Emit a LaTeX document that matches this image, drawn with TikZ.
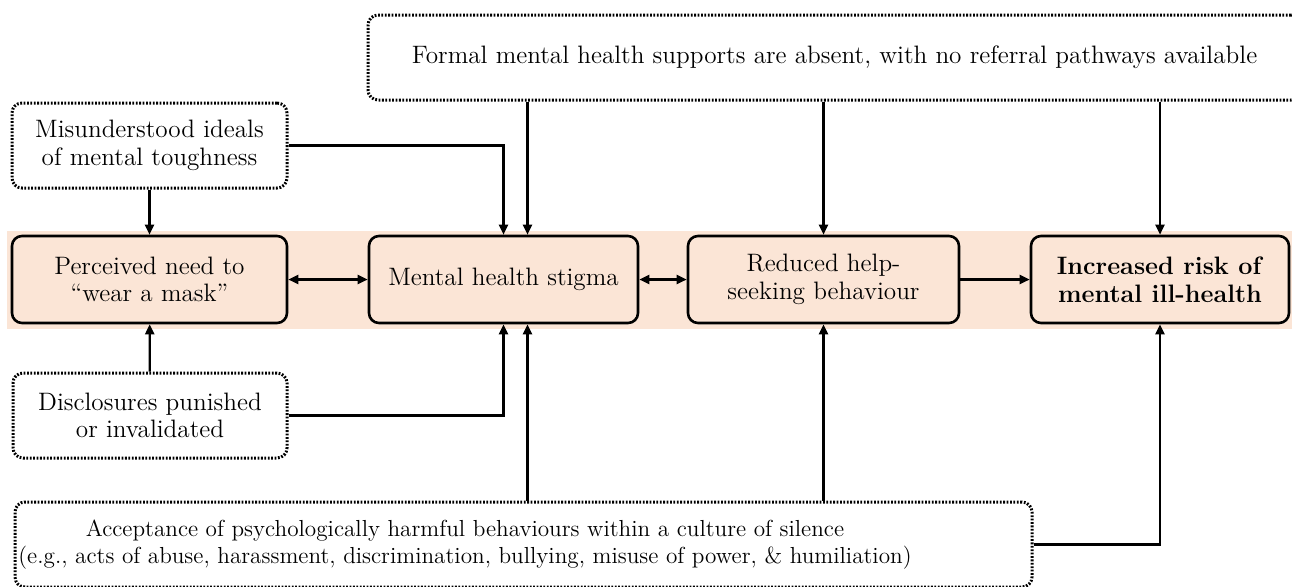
\documentclass[tikz,border=0pt]{standalone}
\usetikzlibrary{arrows.meta}
\definecolor{Peach}{HTML}{FBE5D6}

\begin{document}
\begin{tikzpicture}[
  x=0.5pt,y=-0.5pt,
  font=\fontsize{12.6}{13.8}\selectfont,
  factor/.style = {draw,line width=1.3pt,rounded corners=5pt,fill=Peach,
    align=center,inner sep=0pt,minimum height=43.5pt},
  context/.style = {draw,line width=1.5pt,dash pattern=on 0.9pt off 0.8pt,
    rounded corners=5pt,align=center,inner sep=0pt,minimum height=42.5pt},
  link/.style = {line width=1.1pt,-{Triangle[length=5pt,width=4.5pt]}},
  dlink/.style = {line width=1.1pt,{Triangle[length=5pt,width=4.5pt]}-{Triangle[length=5pt,width=4.5pt]}}
  ]
  \useasboundingbox (0,0) rectangle (1292,586);
  \clip (0,0) rectangle (1292,586);
  % band
  \fill[Peach] (7,231) rectangle (1310,329);
  %
  \node[factor,minimum width=137.5pt] (mask)   at (149.5,279.5) {Perceived need to\\``wear a mask''};
  \node[factor,minimum width=134.5pt] (stigma) at (503.5,279.5) {Mental health stigma};
  \node[factor,minimum width=135.5pt] (help)   at (823.5,279.5) {Reduced help-\\seeking behaviour};
  \node[factor,minimum width=129pt]   (risk)   at (1160,279.5) {\textbf{Increased risk of}\\\textbf{mental ill-health}};
  %
  \node[context,minimum width=466.5pt] (formal) at (834.5,57.5) {Formal mental health supports are absent, with no referral pathways available};
  \node[context,minimum width=137.5pt] (tough)  at (149.5,145.5) {Misunderstood ideals\\of mental toughness};
  \node[context,minimum width=137pt]   (punish) at (150,415.5) {Disclosures punished\\or invalidated};
  \node[context,minimum width=508.5pt] (culture) at (523.5,544.5) {};
  \node[align=center,font=\fontsize{11.6}{13.8}\selectfont] (culture text) at (465,544.5) {Acceptance of psychologically harmful behaviours within a culture of silence\\(e.g., acts of abuse, harassment, discrimination, bullying, misuse of power, \& humiliation)};
  %
  \coordinate (stigma in) at ([xshift=12pt]stigma.north);
  \coordinate (stigma up) at ([xshift=12pt]stigma.south);
  % main chain
  \draw[dlink] (mask) -- (stigma);
  \draw[dlink] (stigma) -- (help);
  \draw[link] (help) -- (risk);
  % from above
  \draw[link] (tough) -- (mask);
  \draw[link] (tough.east) -| (stigma.north);
  \draw[link] (formal.south -| stigma in) -- (stigma in);
  \draw[link] (formal.south -| help) -- (help.north);
  \draw[link] (formal.south -| risk) -- (risk.north);
  % from below
  \draw[link] (punish) -- (mask);
  \draw[link] (punish.east) -| (stigma.south);
  \draw[link] (culture.north -| stigma up) -- (stigma up);
  \draw[link] (culture.north -| help) -- (help.south);
  \draw[link] (culture.east) -| (risk.south);
\end{tikzpicture}
\end{document}
